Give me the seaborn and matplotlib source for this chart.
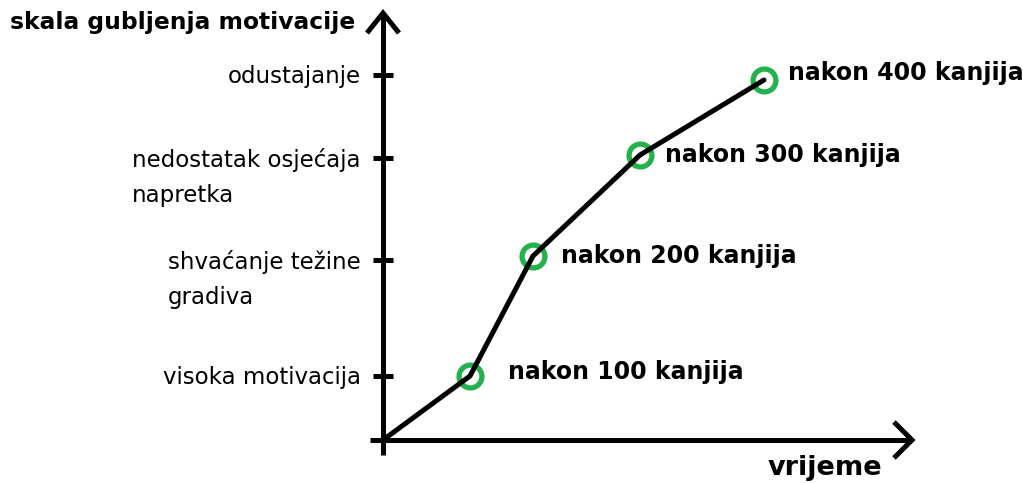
import matplotlib
matplotlib.use("Agg")
import matplotlib.pyplot as plt
import seaborn as sns
import pandas as pd

# data (time on x, loss-of-motivation scale on y)
time_vals = [0, 87, 150, 257, 381]
level_vals = [0, 64, 184, 285, 360]
point_labels = ["nakon 100 kanjija", "nakon 200 kanjija", "nakon 300 kanjija", "nakon 400 kanjija"]
label_offsets = [(27, 3), (20, 0), (18, 0), (17, 5)]
tick_positions = [64, 180, 282, 365]
tick_labels = ["visoka motivacija", "shvaćanje težine\ngradiva",
               "nedostatak osjećaja\nnapretka", "odustajanje"]
y_title = "skala gubljenja motivacije"
x_title = "vrijeme"

sns.set_style("white")
plt.rcParams["font.family"] = ["DejaVu Sans"]
plt.rcParams["text.color"] = "black"
plt.rcParams["ytick.color"] = "black"

df = pd.DataFrame({"t": time_vals, "lvl": level_vals})
pts = df.iloc[1:]

fig = plt.figure(figsize=(10.23, 4.83), dpi=100)
ax = fig.add_axes([0, 0, 1, 1])
ax.set_xlim(-383, 640)
ax.set_ylim(-43, 440)

green = "#22b14c"
sns.scatterplot(data=pts, x="t", y="lvl", ax=ax, s=270, facecolor="white",
                edgecolor=green, linewidth=3.8, zorder=3)
sns.lineplot(data=df, x="t", y="lvl", ax=ax, color="black", linewidth=3.6,
             zorder=4, sort=False)

for (x, y), lab, off in zip(pts[["t", "lvl"]].values, point_labels, label_offsets):
    ax.annotate(lab, (x, y), xytext=off, textcoords="offset points",
                ha="left", va="center", fontsize=17, fontweight="bold", color="black")

# axes
for side in ["top", "right"]:
    ax.spines[side].set_visible(False)
ax.spines["left"].set_position(("data", 0))
ax.spines["bottom"].set_position(("data", 0))
ax.spines["left"].set_bounds(-15, 427)
ax.spines["bottom"].set_bounds(-13, 529)
for side in ["left", "bottom"]:
    ax.spines[side].set_linewidth(3.6)
    ax.spines[side].set_color("black")
    ax.spines[side].set_capstyle("butt")

# arrowheads
ax.plot([-16, 0, 16], [407, 427, 407], color="black", lw=3.6, solid_joinstyle="miter",
        solid_capstyle="butt", clip_on=False)
ax.plot([511, 529, 511], [18, 0, -18], color="black", lw=3.6, solid_joinstyle="miter",
        solid_capstyle="butt", clip_on=False)

ax.set_xticks([])
ax.set_yticks(tick_positions)
ax.set_yticklabels([""] * len(tick_positions))
ax.tick_params(axis="y", direction="inout", length=14.5, width=3.6, left=True)
ax.set_xlabel("")
ax.set_ylabel("")

# y level labels: first line centred on the tick, further lines below
for pos, lab in zip(tick_positions, tick_labels):
    ax.annotate(lab, (0, pos), xytext=(-16, 7.5), textcoords="offset points",
                ha="right", va="top", fontsize=16.5, multialignment="left",
                linespacing=1.7, color="black")

ax.text(-373, 418, y_title, ha="left", va="center", fontsize=16.8, fontweight="bold",
        color="black")
ax.text(385, -28, x_title, ha="left", va="center", fontsize=19.5, fontweight="bold",
        color="black")

fig.savefig("out.png", dpi=100, facecolor="white")
